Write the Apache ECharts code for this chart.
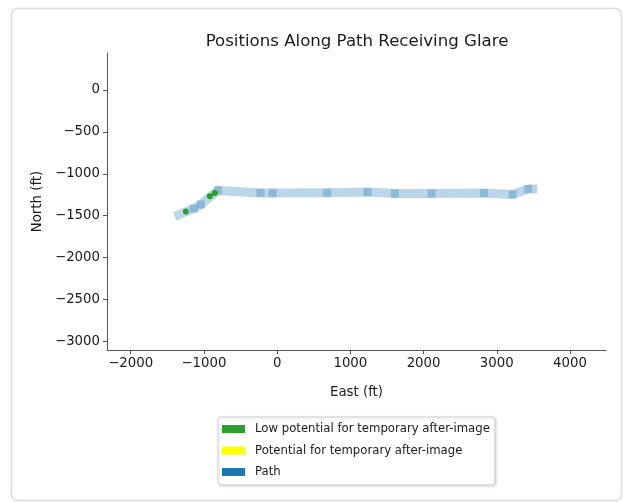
<!DOCTYPE html>
<html>
<head>
<meta charset="utf-8">
<script src="https://cdn.jsdelivr.net/npm/echarts@6/dist/echarts.min.js"></script>
<style>html,body{margin:0;padding:0;background:#fff;}#c{width:623px;height:502px;}</style>
</head>
<body>
<div id="c"></div>
<script>
// Path vertices (East ft, North ft)
const pathEast  = [-1343, -1138, -1042, -810, -227, -63, 683, 1235, 1608, 2109, 2824, 3216, 3429, 3493];
const pathNorth = [-1487, -1415, -1367, -1199, -1229, -1229, -1227, -1219, -1235, -1235, -1231, -1247, -1181, -1181];
// Low potential glare positions
const lowEast  = [-1247, -919, -851];
const lowNorth = [-1451, -1267, -1231];
// Potential for after-image (none)
const potEast = [];
const potNorth = [];
// Ticks
const xTicks = [-2000, -1000, 0, 1000, 2000, 3000, 4000];
const yTicks = [0, -500, -1000, -1500, -2000, -2500, -3000];

const fmt = v => v < 0 ? '\u2212' + Math.abs(v) : String(v);
const FONT = 'DejaVu Sans';
const last = pathEast.length - 1;
const pathData = pathEast.map((e, i) => (i === 0 || i === last)
  ? { value: [e, pathNorth[i]], symbol: 'none' }
  : { value: [e, pathNorth[i]] });

const chart = echarts.init(document.getElementById('c'), null, { renderer: 'canvas' });
chart.setOption({
  animation: false,
  backgroundColor: '#fff',
  graphic: [{
    type: 'rect', silent: true, z: -10,
    shape: { x: 11.5, y: 8.5, width: 610, height: 492, r: 6 },
    style: { fill: 'none', stroke: '#dcdcdc', lineWidth: 1.5 }
  }],
  title: {
    text: 'Positions Along Path Receiving Glare',
    left: 352, textAlign: 'center', top: 28,
    textStyle: { fontFamily: FONT, fontSize: 16.6, fontWeight: 'normal', color: '#1a1a1a' }
  },
  grid: { left: 107, right: 17, top: 53, bottom: 152, containLabel: false },
  xAxis: {
    type: 'value', min: -2324, max: 4492,
    name: 'East (ft)', nameLocation: 'middle', nameGap: 36,
    nameTextStyle: { fontFamily: FONT, fontSize: 13.3, color: '#1a1a1a' },
    axisLine: { show: true, onZero: false, lineStyle: { color: '#555', width: 1 } },
    axisTick: { show: true, length: 4, lineStyle: { color: '#555' }, customValues: xTicks },
    axisLabel: { fontFamily: FONT, fontSize: 13.3, color: '#1a1a1a', margin: 7, customValues: xTicks, formatter: fmt },
    splitLine: { show: false }
  },
  yAxis: {
    type: 'value', min: -3104, max: 442,
    name: 'North (ft)', nameLocation: 'middle', nameGap: 63, nameRotate: 90,
    nameTextStyle: { fontFamily: FONT, fontSize: 13.3, color: '#1a1a1a' },
    axisLine: { show: true, onZero: false, lineStyle: { color: '#555', width: 1 } },
    axisTick: { show: true, length: 4, lineStyle: { color: '#555' }, customValues: yTicks },
    axisLabel: { fontFamily: FONT, fontSize: 13.3, color: '#1a1a1a', margin: 7, customValues: yTicks, formatter: fmt, padding: [3, 0, 0, 0] },
    splitLine: { show: false }
  },
  legend: {
    orient: 'vertical', left: 218, top: 417,
    padding: [5, 5, 6, 4],
    itemWidth: 23, itemHeight: 8, itemGap: 7.5, icon: 'rect',
    backgroundColor: '#fff',
    borderColor: '#d0d0d0', borderWidth: 1, borderRadius: 3,
    shadowBlur: 3, shadowColor: 'rgba(0,0,0,0.15)', shadowOffsetX: 1, shadowOffsetY: 1,
    textStyle: { fontFamily: FONT, fontSize: 11.7, color: '#1a1a1a', lineHeight: 14, padding: [0, 0, 0, 5] },
    data: [
      { name: 'Low potential for temporary after-image', itemStyle: { color: '#2ca02c', opacity: 1 } },
      { name: 'Potential for temporary after-image', itemStyle: { color: '#ffff00', opacity: 1 } },
      { name: 'Path', itemStyle: { color: '#1f77b4', opacity: 1 } }
    ]
  },
  series: [
    {
      name: 'Path', type: 'line', data: pathData,
      symbol: 'rect', symbolSize: 8, showSymbol: true,
      itemStyle: { color: '#1f77b4', opacity: 0.3 },
      lineStyle: { color: '#1f77b4', width: 9, opacity: 0.3, cap: 'square', join: 'miter' },
      z: 2
    },
    {
      name: 'Low potential for temporary after-image', type: 'scatter',
      data: lowEast.map((e, i) => [e, lowNorth[i]]),
      symbolSize: 6, itemStyle: { color: '#2ca02c', opacity: 1 }, z: 3
    },
    {
      name: 'Potential for temporary after-image', type: 'scatter',
      data: potEast.map((e, i) => [e, potNorth[i]]),
      symbolSize: 6, itemStyle: { color: '#ffff00' }, z: 3
    }
  ]
});
</script>
</body>
</html>
